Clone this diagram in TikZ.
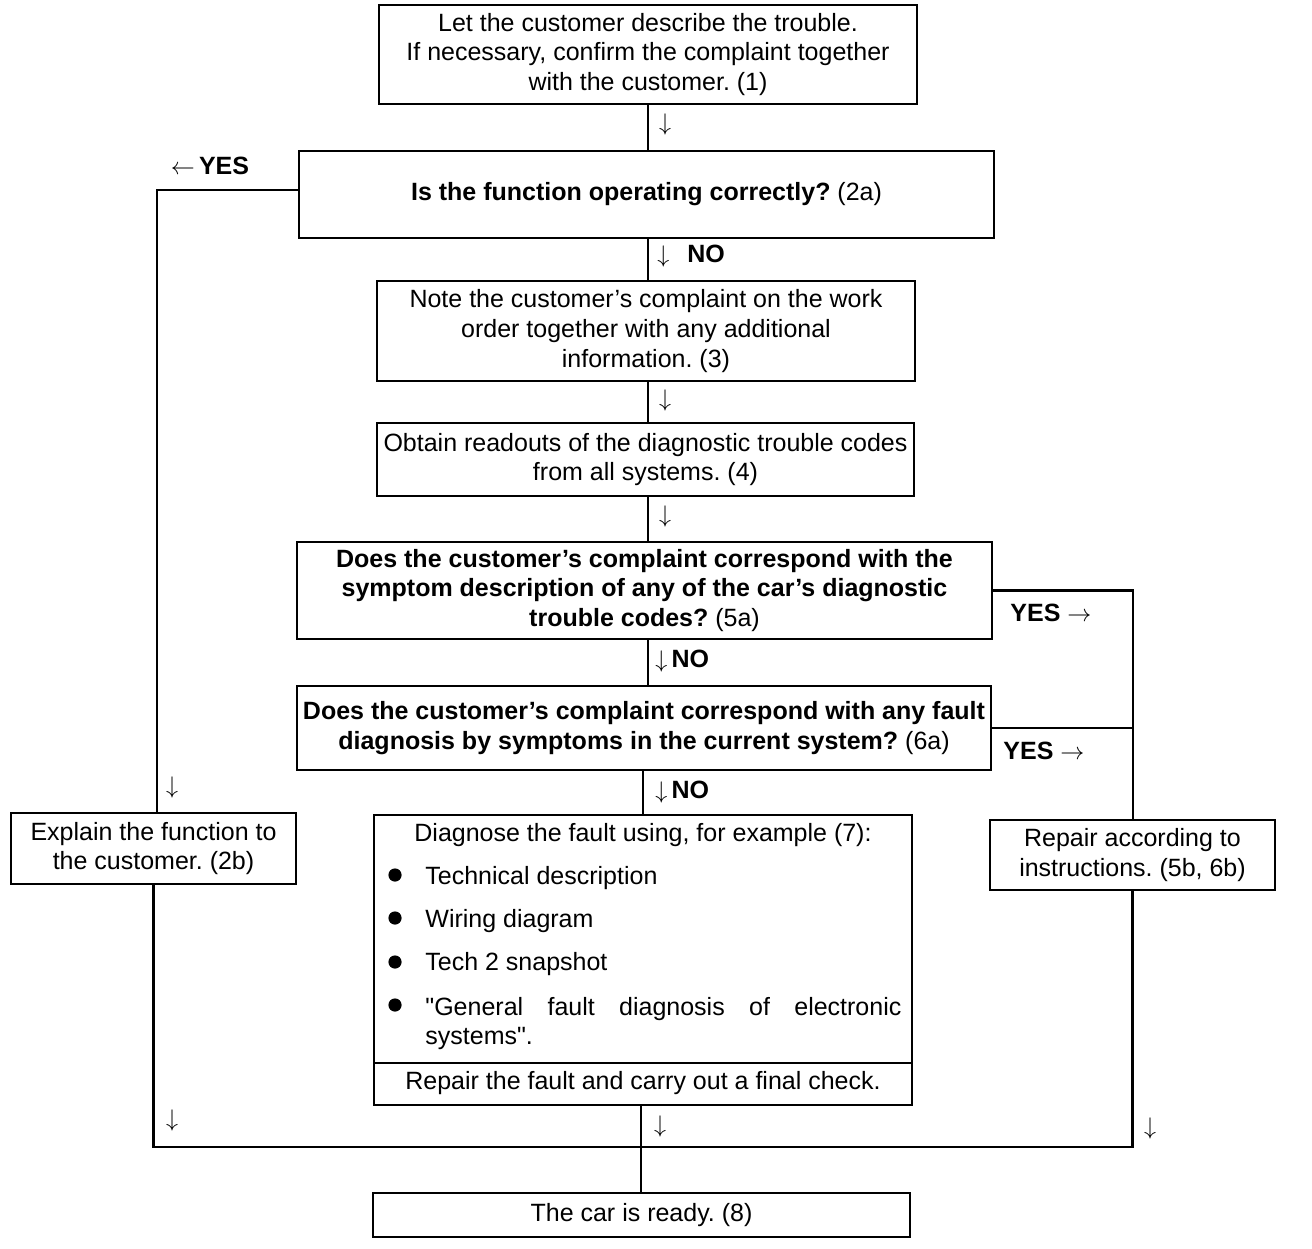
\documentclass[tikz,border=0pt]{standalone}
\usepackage{fontspec}
\setmainfont{Liberation Sans}
\newfontfamily\qfont{Liberation Sans}[Ligatures=TeXOff]
\usetikzlibrary{calc}
\frenchspacing
\begin{document}
\begin{tikzpicture}[x=0.5pt,y=-0.5pt,
  box/.style={draw,line width=1pt,inner sep=0pt,align=center,font=\fontsize{12.5}{14.8}\selectfont},
  conn/.style={line width=1.1pt},
  lbl/.style={inner sep=0pt,font=\fontsize{12.5}{14}\selectfont},
  ]
\useasboundingbox (0,0) rectangle (1312,1248);
% boxes
\node[box,minimum width=269pt,minimum height=49.5pt] (b1) at (648,54.5)
  {Let the customer describe the trouble.\\If necessary, confirm the complaint together\\with the customer. (1)};
\node[box,minimum width=347.5pt,minimum height=43.5pt] (b2a) at (646.5,194.5)
  {\textbf{Is the function operating correctly?} (2a)};
\node[box,minimum width=269pt,minimum height=50pt] (b3) at (646,331)
  {Note the customer's complaint on the work\\order together with any additional\\information. (3)};
\node[box,minimum width=268.5pt,minimum height=36.5pt] (b4) at (645.5,459.5)
  {Obtain readouts of the diagnostic trouble codes\\from all systems. (4)};
\node[box,minimum width=347.5pt,minimum height=48.5pt] (b5a) at (644.5,590.5)
  {\textbf{Does the customer's complaint correspond with the}\\\textbf{symptom description of any of the car's diagnostic}\\\textbf{trouble codes?} (5a)};
\node[box,minimum width=347pt,minimum height=42pt] (b6a) at (644,728)
  {\textbf{Does the customer's complaint correspond with any fault}\\\textbf{diagnosis by symptoms in the current system?} (6a)};
\node[box,minimum width=269pt,minimum height=145pt] (b7) at (643,960) {};
\node[box,minimum width=142.5pt,minimum height=35.5pt] (b2b) at (153.5,848.5)
  {Explain the function to\\the customer. (2b)};
\node[box,minimum width=142.5pt,minimum height=35pt] (b5b) at (1132.5,855)
  {Repair according to\\instructions. (5b, 6b)};
\node[box,minimum width=268.5pt,minimum height=22pt] (b8) at (641.5,1215)
  {The car is ready. (8)};
% box 7 content
\coordinate (div) at (0,1063);
\draw[line width=1pt] (b7.west |- div) -- (b7.east |- div);
\node[lbl] (h7) at (643,835) {Diagnose the fault using, for example (7):};
\foreach \n/\yb/\yt/\t in {i1/875/878/Technical description, i2/918/921/Wiring diagram, i3/962/964/Tech 2 snapshot}{
  \fill (395,\yb) circle (3.3pt);
  \node[lbl,anchor=west] (\n) at (425,\yt) {\t};
}
\fill (395,1005) circle (3.3pt);
\node[lbl,anchor=north west,text width=238pt,align=justify,font=\fontsize{12.5}{14.5}\selectfont] (i4) at (425,997)
  {{\qfont"}General fault diagnosis of electronic \mbox{systems{\qfont"}.}};
\node[lbl] (r7) at (643,1083) {Repair the fault and carry out a final check.};
% connector coordinates
\coordinate (cx) at (648,0);
\coordinate (cy) at (641,0);
\coordinate (lx) at (157,0);
\coordinate (ly) at (0,190);
\coordinate (rx) at (1133,0);
\coordinate (jn) at (641,1147);
% main column
\draw[conn] (b1.south -| cx) -- (b2a.north -| cx);
\draw[conn] (b2a.south -| cx) -- (b3.north -| cx);
\draw[conn] (b3.south -| cx) -- (b4.north -| cx);
\draw[conn] (b4.south -| cx) -- (b5a.north -| cx);
\draw[conn] (b5a.south -| cx) -- (b6a.north -| cx);
\draw[conn] (b6a.south -| b7) -- (b7.north);
\draw[conn] (b7.south -| cy) -- (b8.north -| cy);
% left branch
\draw[conn] (b2a.west |- ly) -- (lx |- ly) -- (b2b.north -| lx);
% right branch
\draw[conn] (b5a.east) -- (b5a.east -| rx) -- (b5b.north -| rx);
\draw[conn] (b6a.east) -- (b6a.east -| rx);
% bottom merge
\draw[conn] (b2b.south) -- (b2b.south |- jn) -- (jn -| b5b.south) -- (b5b.south);
% labels
\node[lbl] (l1) at (210,166) {$\leftarrow$\,\textbf{YES}};
\node[lbl] (a1) at (665,124) {$\downarrow$};
\node[lbl,anchor=west] (a2) at (657,256) {$\downarrow$\hspace{9pt}\textbf{NO}};
\node[lbl] (a3) at (665,400) {$\downarrow$};
\node[lbl] (a4) at (665,516) {$\downarrow$};
\node[lbl,anchor=west] (a5) at (655,661) {$\downarrow$\,\textbf{NO}};
\node[lbl,anchor=west] (a6) at (655,792) {$\downarrow$\,\textbf{NO}};
\node[lbl,anchor=west] (y5) at (1010,613) {\textbf{YES} $\rightarrow$};
\node[lbl,anchor=west] (y6) at (1003,751) {\textbf{YES} $\rightarrow$};
\node[lbl] (a7) at (172,787) {$\downarrow$};
\node[lbl] (a8) at (172,1120) {$\downarrow$};
\node[lbl] (a9) at (660,1126) {$\downarrow$};
\node[lbl] (a10) at (1150,1128) {$\downarrow$};
\end{tikzpicture}
\end{document}
